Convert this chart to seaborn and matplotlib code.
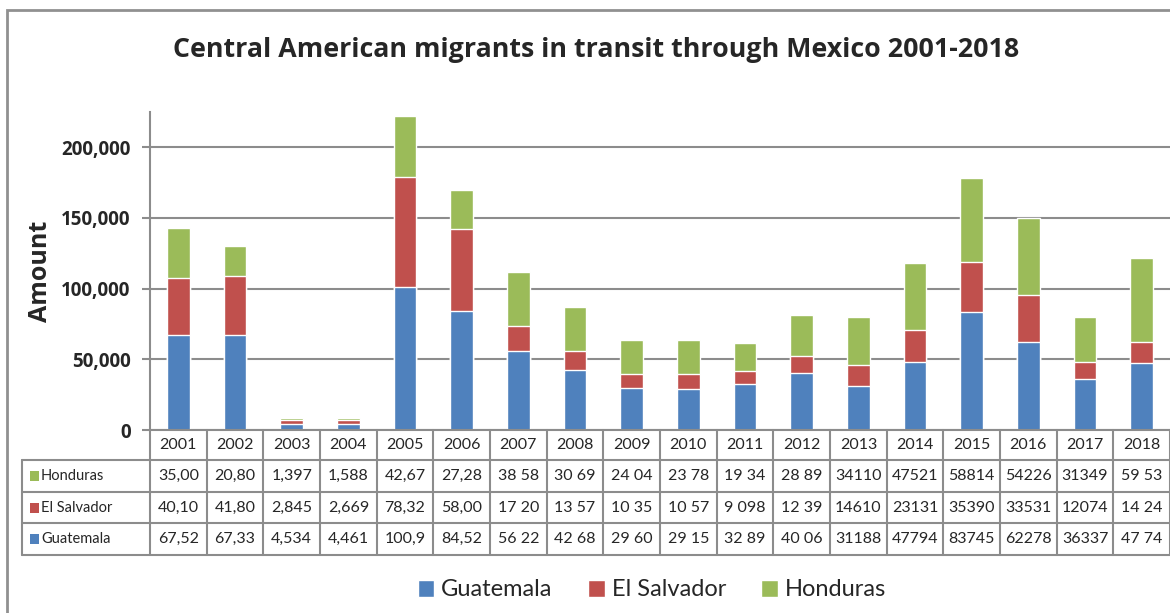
import pandas as pd
import matplotlib.pyplot as plt
import seaborn as sns
from matplotlib.patches import Patch, Rectangle
from matplotlib.lines import Line2D
from matplotlib.transforms import blended_transform_factory
from matplotlib.ticker import FuncFormatter

years = [str(y) for y in range(2001, 2019)]
guatemala = [67520, 67330, 4534, 4461, 100900, 84520, 56220, 42680, 29600,
             29150, 32890, 40060, 31188, 47794, 83745, 62278, 36337, 47740]
el_salvador = [40100, 41800, 2845, 2669, 78320, 58000, 17200, 13570, 10350,
               10570, 9098, 12390, 14610, 23131, 35390, 33531, 12074, 14240]
honduras = [35000, 20800, 1397, 1588, 42670, 27280, 38580, 30690, 24040,
            23780, 19340, 28890, 34110, 47521, 58814, 54226, 31349, 59530]

# text as printed (cut off) in the data table under the chart
hon_labels = ["35,00", "20,80", "1,397", "1,588", "42,67", "27,28", "38 58", "30 69", "24 04",
              "23 78", "19 34", "28 89", "34110", "47521", "58814", "54226", "31349", "59 53"]
sal_labels = ["40,10", "41,80", "2,845", "2,669", "78,32", "58,00", "17 20", "13 57", "10 35",
              "10 57", "9 098", "12 39", "14610", "23131", "35390", "33531", "12074", "14 24"]
gua_labels = ["67,52", "67,33", "4,534", "4,461", "100,9", "84,52", "56 22", "42 68", "29 60",
              "29 15", "32 89", "40 06", "31188", "47794", "83745", "62278", "36337", "47 74"]

blue, red, green = "#4F81BD", "#C0504D", "#9BBB59"
grid_c = "#8c8c8c"
bold_font = ["Open Sans", "DejaVu Sans"]

df = pd.DataFrame({"year": years, "g": guatemala, "s": el_salvador, "h": honduras})
df["gs"] = df["g"] + df["s"]
df["total"] = df["gs"] + df["h"]

sns.set_style("white")
plt.rcParams["font.family"] = ["Lato", "DejaVu Sans"]

W, H = 1170, 613
fig = plt.figure(figsize=(W / 100, H / 100), dpi=100)
ax = fig.add_axes([150 / W, 1 - 430 / H, 1020 / W, 318 / H])

sns.barplot(data=df, x="year", y="total", color=green, width=0.4, saturation=1, ax=ax)
sns.barplot(data=df, x="year", y="gs", color=red, width=0.4, saturation=1, ax=ax)
sns.barplot(data=df, x="year", y="g", color=blue, width=0.4, saturation=1, ax=ax)

ax.set_xlim(-0.5, 17.5)
ax.set_ylim(0, 225000)
ax.set_yticks([0, 50000, 100000, 150000, 200000])
ax.yaxis.set_major_formatter(FuncFormatter(lambda v, p: f"{int(v):,}"))
ax.yaxis.grid(True, color=grid_c, lw=1.5)
ax.set_axisbelow(True)
ax.set_xticks([])
ax.set_xlabel("")
ax.set_ylabel("Amount", fontsize=18, fontweight="bold", family=bold_font, labelpad=6)
ax.tick_params(axis="y", length=6, width=1.5, color=grid_c, left=True, pad=8)
for lab in ax.get_yticklabels():
    lab.set_fontweight("bold")
    lab.set_family(bold_font)
    lab.set_fontsize(13.5)
for side in ["top", "right", "bottom"]:
    ax.spines[side].set_visible(False)
ax.spines["left"].set_color(grid_c)
ax.spines["left"].set_linewidth(1.5)

# data table below the axis
tr = blended_transform_factory(ax.transData, fig.transFigure)
def fy(p):
    return 1 - p / H

x_left = -0.5 - 128 / (1020 / 18)
rows_y = [430, 460, 492, 523, 555]
for i, py in enumerate(rows_y):
    x0 = -0.5 if i == 0 else x_left
    fig.add_artist(Line2D([x0, 17.5], [fy(py), fy(py)], transform=tr, color=grid_c, lw=1.5))
fig.add_artist(Line2D([x_left, x_left], [fy(460), fy(555)], transform=tr, color=grid_c, lw=1.5))
for k in range(19):
    xb = k - 0.5
    fig.add_artist(Line2D([xb, xb], [fy(430), fy(555)], transform=tr, color=grid_c, lw=1.5))

for i, yr in enumerate(years):
    fig.text(i, fy(445), yr, transform=tr, ha="center", va="center", fontsize=11.5)
table_rows = [("Honduras", green, hon_labels, 476),
              ("El Salvador", red, sal_labels, 508),
              ("Guatemala", blue, gua_labels, 539)]
for name, col, labs, py in table_rows:
    fig.add_artist(Rectangle((30 / W, fy(py + 5)), 9 / W, 10 / H, transform=fig.transFigure,
                             facecolor=col, edgecolor="none"))
    fig.text(41 / W, fy(py), name, ha="left", va="center", fontsize=10.5)
    for i, t in enumerate(labs):
        fig.text(i, fy(py), t, transform=tr, ha="center", va="center", fontsize=11.5)

# outer border of the chart area
fig.add_artist(Rectangle((7 / W, -0.05), 1.2, fy(10) + 0.05, transform=fig.transFigure,
                         fill=False, edgecolor="#909090", lw=2))

fig.text(596 / W, fy(50), "Central American migrants in transit through Mexico 2001-2018",
         ha="center", va="center", fontsize=19.3, fontweight="bold", family=bold_font)

handles = [Patch(facecolor=blue, label="Guatemala"),
           Patch(facecolor=red, label="El Salvador"),
           Patch(facecolor=green, label="Honduras")]
fig.legend(handles=handles, loc="center", bbox_to_anchor=(652 / W, fy(590)), ncol=3,
           frameon=False, fontsize=17, handlelength=0.7, handleheight=0.7,
           handletextpad=0.3, columnspacing=1.5)

fig.savefig("out.png", dpi=100)
